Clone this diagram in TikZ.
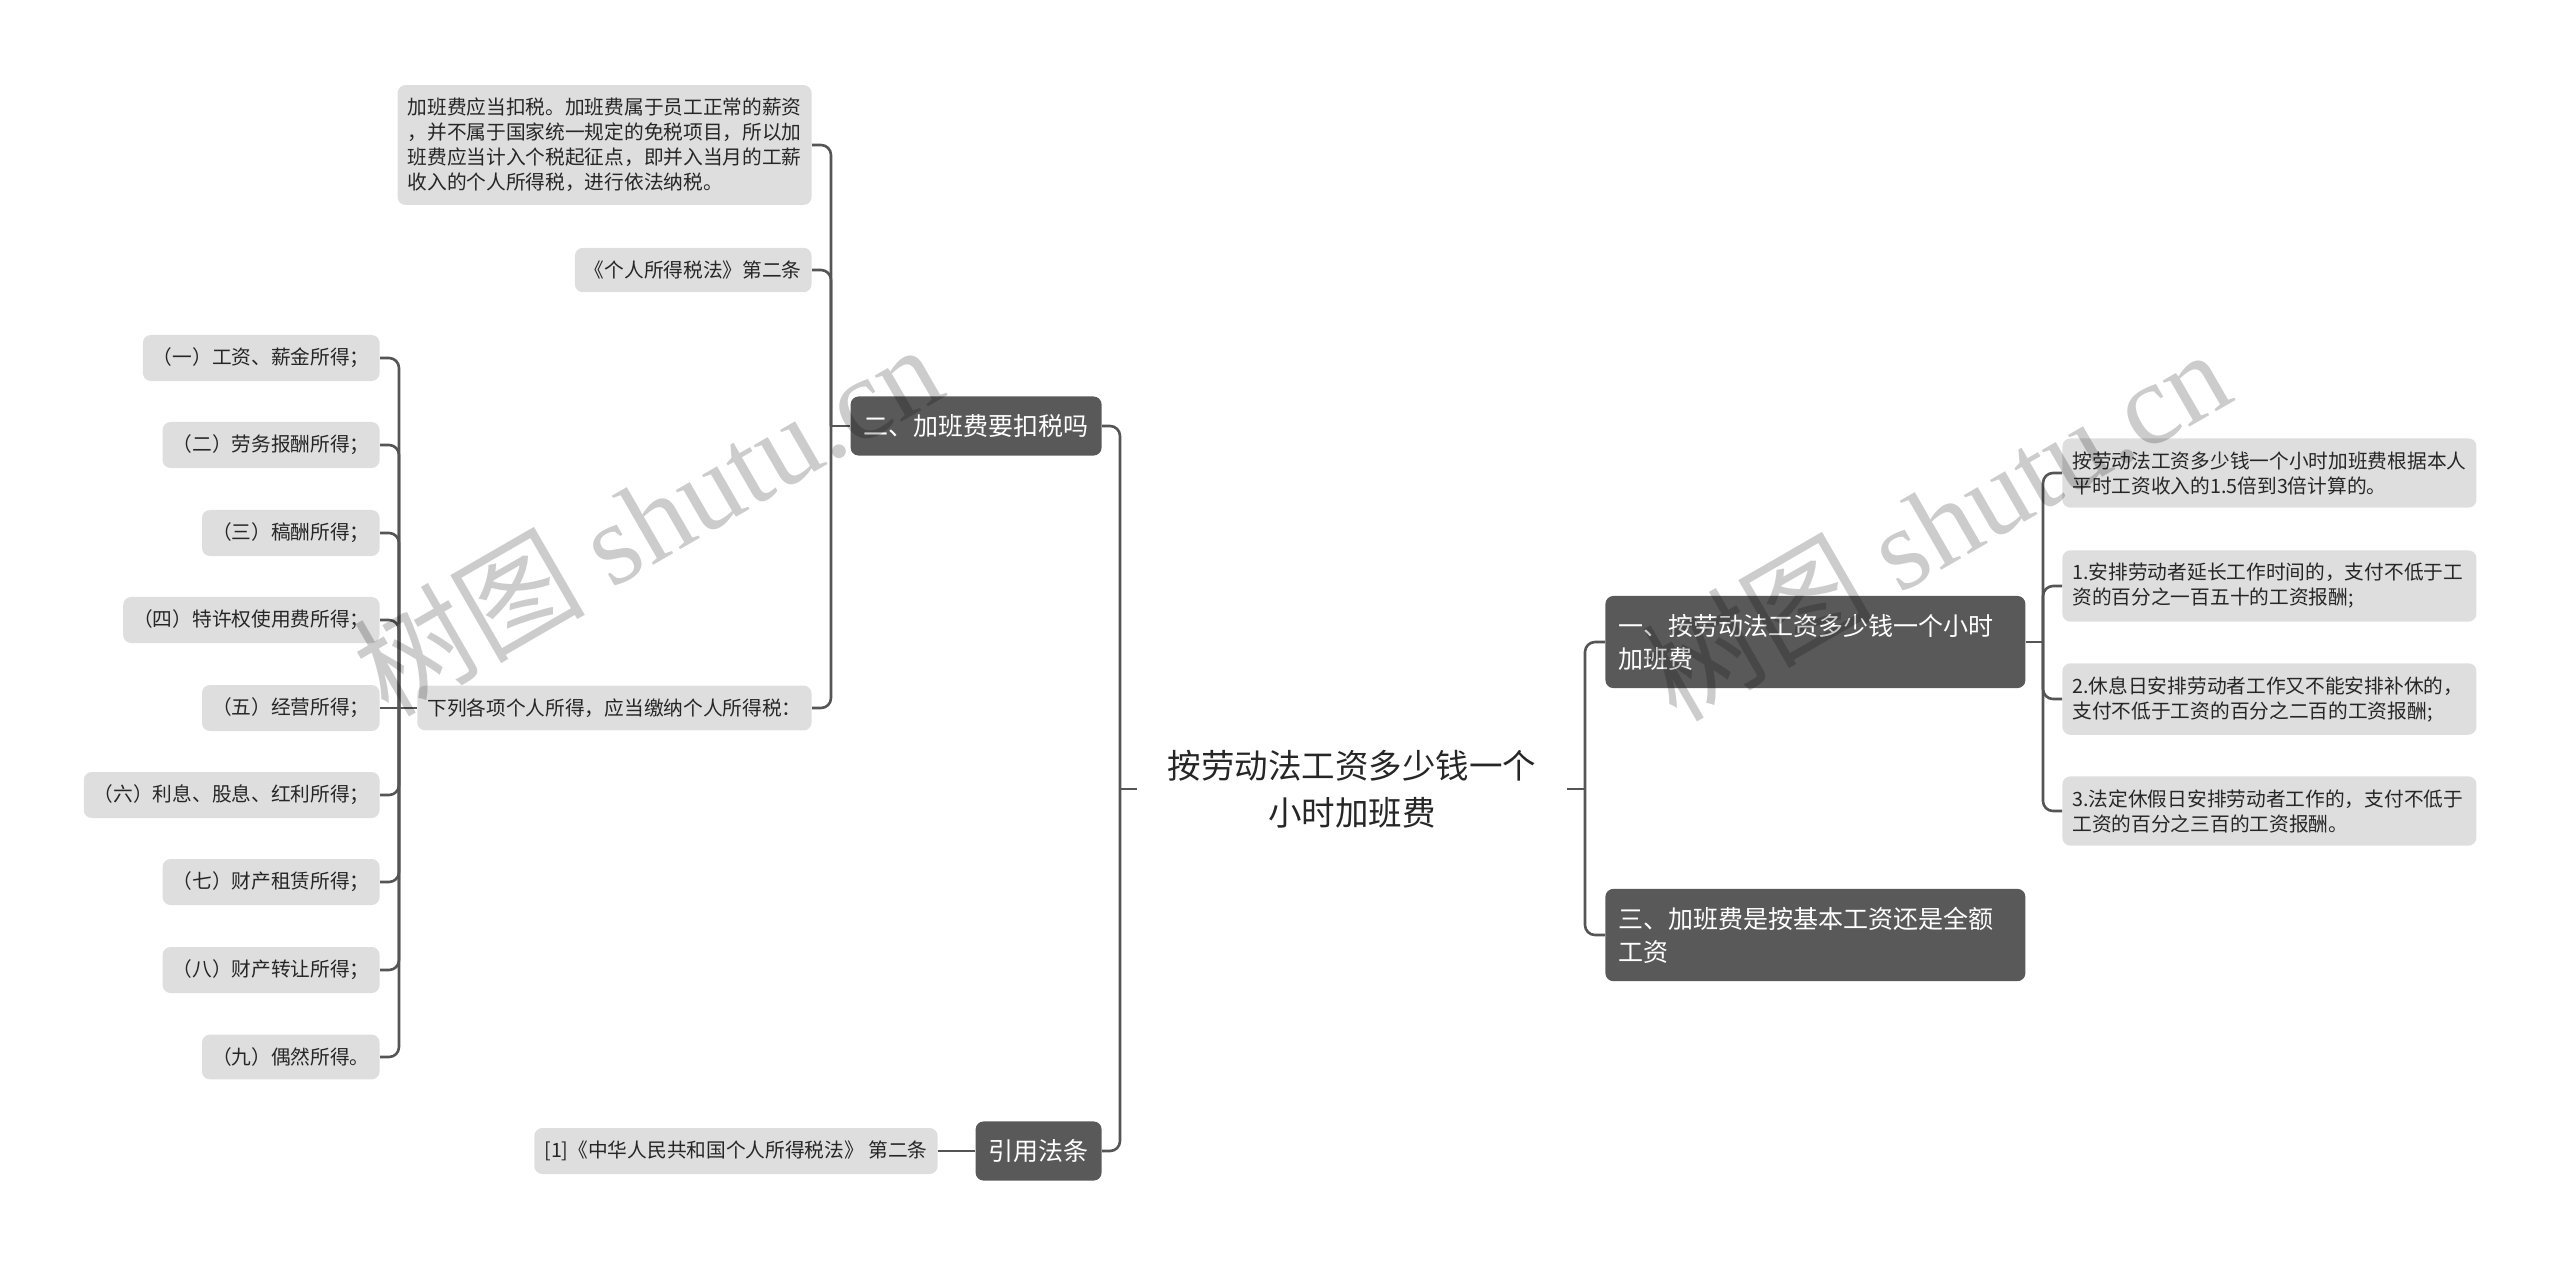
\documentclass[tikz,border=0pt]{standalone}
\usepackage{fontspec}
\setmainfont{Noto Sans CJK SC}
\newfontfamily\wmfont{Liberation Serif}
\definecolor{topicgray}{HTML}{595959}
\definecolor{leafgray}{HTML}{DEDEDE}
\definecolor{linegray}{HTML}{555555}

\begin{document}
\begin{tikzpicture}[x=0.5pt,y=-0.5pt,
	topic/.style={fill=topicgray,text=white,rounded corners=4pt,inner xsep=6.5pt,inner ysep=9pt,align=left,font=\fontsize{12.5pt}{16.5pt}\selectfont},
	leaf/.style={fill=leafgray,text=black!85,rounded corners=4pt,inner xsep=5pt,inner ysep=6.5pt,align=left,font=\fontsize{9.85pt}{12.5pt}\selectfont},
	conn/.style={draw=linegray,line width=1.3pt,rounded corners=5pt},
	wmark/.style={text=black,text opacity=0.2,font=\fontsize{58pt}{58pt}\selectfont}]
	\useasboundingbox (0,0) rectangle (2560,1266);
	% centre
	\node[align=center,text=black!85,inner xsep=15.4pt,font=\fontsize{16.75pt}{23.5pt}\selectfont] (root) at (1352,789) {按劳动法工资多少钱一个\\小时加班费};
	\coordinate (hL) at (1120,789);
	\coordinate (hR) at (1585,789);
	% left side
	\node[topic,anchor=east] (tax) at (1102,426) {二、加班费要扣税吗};
	\node[topic,anchor=east] (law) at (1102,1151) {引用法条};
	\coordinate (htax) at (831,426);
	\node[leaf,anchor=east,text width=197pt] (taxnote) at (812,145) {加班费应当扣税。加班费属于员工正常的薪资\\，并不属于国家统一规定的免税项目，所以加\\班费应当计入个税起征点，即并入当月的工薪\\收入的个人所得税，进行依法纳税。};
	\node[leaf,anchor=east] (taxart) at (812,270) {《个人所得税法》第二条};
	\node[leaf,anchor=east] (incomes) at (812,708) {下列各项个人所得，应当缴纳个人所得税：};
	\coordinate (hinc) at (399,708);
	\node[leaf,anchor=east] (inc1) at (380,358) {（一）工资、薪金所得；};
	\node[leaf,anchor=east] (inc2) at (380,445) {（二）劳务报酬所得；};
	\node[leaf,anchor=east] (inc3) at (380,533) {（三）稿酬所得；};
	\node[leaf,anchor=east] (inc4) at (380,620) {（四）特许权使用费所得；};
	\node[leaf,anchor=east] (inc5) at (380,708) {（五）经营所得；};
	\node[leaf,anchor=east] (inc6) at (380,795) {（六）利息、股息、红利所得；};
	\node[leaf,anchor=east] (inc7) at (380,882) {（七）财产租赁所得；};
	\node[leaf,anchor=east] (inc8) at (380,970) {（八）财产转让所得；};
	\node[leaf,anchor=east] (inc9) at (380,1057) {（九）偶然所得。};
	\node[leaf,anchor=east] (lawref) at (938,1151) {[1]《中华人民共和国个人所得税法》 第二条};
	% right side
	\node[topic,anchor=west,text width=197pt] (rate) at (1605,642) {一、按劳动法工资多少钱一个小时\\加班费};
	\node[topic,anchor=west,text width=197pt] (base) at (1605,935) {三、加班费是按基本工资还是全额\\工资};
	\coordinate (hrate) at (2043,642);
	\node[leaf,anchor=west,text width=197pt] (rate0) at (2062,473) {按劳动法工资多少钱一个小时加班费根据本人\\平时工资收入的1.5倍到3倍计算的。};
	\node[leaf,anchor=west,text width=197pt] (rate1) at (2062,586) {1.安排劳动者延长工作时间的，支付不低于工\\资的百分之一百五十的工资报酬;};
	\node[leaf,anchor=west,text width=197pt] (rate2) at (2062,699) {2.休息日安排劳动者工作又不能安排补休的，\\支付不低于工资的百分之二百的工资报酬;};
	\node[leaf,anchor=west,text width=197pt] (rate3) at (2062,811) {3.法定休假日安排劳动者工作的，支付不低于\\工资的百分之三百的工资报酬。};
	% connectors
	\draw[conn] (root.west) -- (hL);
	\draw[conn] (root.east) -- (hR);
	\draw[conn] (hL) |- (tax.east);
	\draw[conn] (hL) |- (law.east);
	\draw[conn] (hR) |- (rate.west);
	\draw[conn] (hR) |- (base.west);
	\draw[conn] (tax.west) -- (htax);
	\draw[conn] (htax) |- (taxnote.east);
	\draw[conn] (htax) |- (taxart.east);
	\draw[conn] (htax) |- (incomes.east);
	\draw[conn] (incomes.west) -- (hinc);
	\draw[conn] (hinc) |- (inc1.east);
	\draw[conn] (hinc) |- (inc2.east);
	\draw[conn] (hinc) |- (inc3.east);
	\draw[conn] (hinc) |- (inc4.east);
	\draw[conn] (hinc) -- (inc5.east);
	\draw[conn] (hinc) |- (inc6.east);
	\draw[conn] (hinc) |- (inc7.east);
	\draw[conn] (hinc) |- (inc8.east);
	\draw[conn] (hinc) |- (inc9.east);
	\draw[conn] (law.west) -- (lawref.east);
	\draw[conn] (rate.east) -- (hrate);
	\draw[conn] (hrate) |- (rate0.west);
	\draw[conn] (hrate) |- (rate1.west);
	\draw[conn] (hrate) |- (rate2.west);
	\draw[conn] (hrate) |- (rate3.west);
	% watermarks
	\node[wmark,rotate=30] (wm1) at (647,518) {树图 {\wmfont shutu.cn}};
	\node[wmark,rotate=30] (wm2) at (1935,523) {树图 {\wmfont shutu.cn}};
\end{tikzpicture}
\end{document}
